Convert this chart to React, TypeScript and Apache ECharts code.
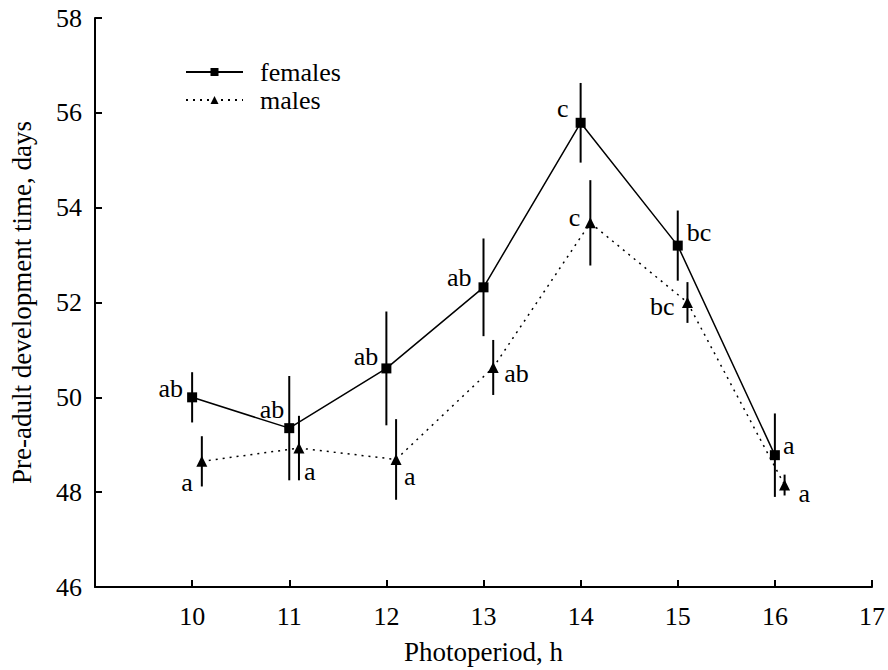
import React, { useEffect, useRef } from "react";
import * as echarts from "echarts";

const photoperiods = [10, 11, 12, 13, 14, 15, 16];
const maleOffset = 0.1;
const femaleMeans = [50.0, 49.35, 50.61, 52.32, 55.79, 53.2, 48.78];
const femaleErr = [0.53, 1.1, 1.2, 1.03, 0.84, 0.74, 0.88];
const femaleLetters = ["ab", "ab", "ab", "ab", "c", "bc", "a"];
const maleMeans = [48.65, 48.93, 48.69, 50.63, 53.68, 52.0, 48.15];
const maleErr = [0.53, 0.68, 0.85, 0.58, 0.9, 0.43, 0.22];
const maleLetters = ["a", "a", "a", "ab", "c", "bc", "a"];
const xTicks = [10, 11, 12, 13, 14, 15, 16, 17];
const yTicks = [46, 48, 50, 52, 54, 56, 58];

// label placement (style): [align, dx, dy]
const femaleLabelPlace: [string, number, number][] = [
  ["right", -9, -9],
  ["right", -5, -19],
  ["right", -8, -12],
  ["right", -12, -10],
  ["right", -12, -14],
  ["left", 9, -13],
  ["left", 8, -10],
];
const maleLabelPlace: [string, number, number][] = [
  ["right", -9, 21],
  ["left", 5, 23],
  ["left", 8, 17],
  ["left", 11, 6],
  ["right", -10, -5],
  ["right", -13, 4],
  ["left", 14, 8],
];

const FONT = "'Liberation Serif', 'Times New Roman', serif";
const FS = 26;

export default function App() {
  const ref = useRef<HTMLDivElement>(null);
  useEffect(() => {
    if (!ref.current) return;
    const chart = echarts.init(ref.current, null, { renderer: "svg" });

    const femaleX = photoperiods.map((p) => p);
    const maleX = photoperiods.map((p) => p + maleOffset);

    const mkData = (xs: number[], ys: number[], letters: string[], place: [string, number, number][]) =>
      xs.map((x, i) => ({
        value: [x, ys[i]],
        label: {
          show: true,
          formatter: letters[i],
          position: "inside",
          align: place[i][0],
          verticalAlign: "middle",
          offset: [place[i][1], place[i][2]],
          fontFamily: FONT,
          fontSize: FS,
          color: "#000",
        },
      }));

    const errData = [
      ...femaleX.map((x, i) => [x, femaleMeans[i] - femaleErr[i], femaleMeans[i] + femaleErr[i]]),
      ...maleX.map((x, i) => [x, maleMeans[i] - maleErr[i], maleMeans[i] + maleErr[i]]),
    ];

    chart.setOption({
      animation: false,
      backgroundColor: "#fff",
      textStyle: { fontFamily: FONT },
      grid: { left: 95, right: 15, top: 18, bottom: 82, containLabel: false },
      legend: {
        orient: "vertical",
        left: 180,
        top: 54,
        itemWidth: 57,
        itemHeight: 10,
        itemGap: 2,
        textStyle: { fontFamily: FONT, fontSize: FS, color: "#000", padding: [0, 0, 0, 12] },
        data: ["females", "males"],
      },
      xAxis: {
        type: "value",
        min: 9,
        max: 17,
        interval: 1,
        name: "Photoperiod, h",
        nameLocation: "middle",
        nameGap: 51,
        nameTextStyle: { fontFamily: FONT, fontSize: 27, color: "#000" },
        axisLine: { show: true, onZero: false, lineStyle: { color: "#000", width: 2 } },
        axisTick: { show: true, inside: true, length: 7, lineStyle: { color: "#000", width: 2 } },
        axisLabel: {
          fontFamily: FONT,
          fontSize: FS,
          color: "#000",
          margin: 16,
          formatter: (v: number) => (xTicks.includes(v) ? String(v) : ""),
        },
        splitLine: { show: false },
      },
      yAxis: {
        type: "value",
        min: 46,
        max: 58,
        interval: 2,
        name: "Pre-adult development time, days",
        nameLocation: "middle",
        nameGap: 60,
        nameTextStyle: { fontFamily: FONT, fontSize: 27, color: "#000" },
        axisLine: { show: true, lineStyle: { color: "#000", width: 2 } },
        axisTick: { show: true, inside: true, length: 7, lineStyle: { color: "#000", width: 2 } },
        axisLabel: {
          fontFamily: FONT,
          fontSize: FS,
          color: "#000",
          margin: 13,
          formatter: (v: number) => (yTicks.includes(v) ? String(v) : ""),
        },
        splitLine: { show: false },
      },
      series: [
        {
          type: "custom",
          name: "err",
          z: 1,
          silent: true,
          data: errData,
          encode: { x: 0, y: [1, 2] },
          renderItem: (params: any, api: any) => {
            const x = api.value(0);
            const lo = api.coord([x, api.value(1)]);
            const hi = api.coord([x, api.value(2)]);
            return {
              type: "line",
              shape: { x1: lo[0], y1: lo[1], x2: hi[0], y2: hi[1] },
              style: { stroke: "#000", lineWidth: 2 },
            };
          },
        },
        {
          type: "line",
          name: "females",
          z: 3,
          symbol: "rect",
          symbolSize: 10,
          itemStyle: { color: "#000" },
          lineStyle: { color: "#000", width: 1.5, type: "solid" },
          data: mkData(femaleX, femaleMeans, femaleLetters, femaleLabelPlace),
        },
        {
          type: "line",
          name: "males",
          z: 2,
          symbol: "triangle",
          symbolSize: 11,
          itemStyle: { color: "#000" },
          lineStyle: { color: "#000", width: 1.5, type: [2, 5] },
          data: mkData(maleX, maleMeans, maleLetters, maleLabelPlace),
        },
      ],
    });
    return () => chart.dispose();
  }, []);
  return (
    <div
      ref={ref}
      style={{ position: "absolute", left: 0, top: 0, width: 888, height: 670 }}
    />
  );
}
